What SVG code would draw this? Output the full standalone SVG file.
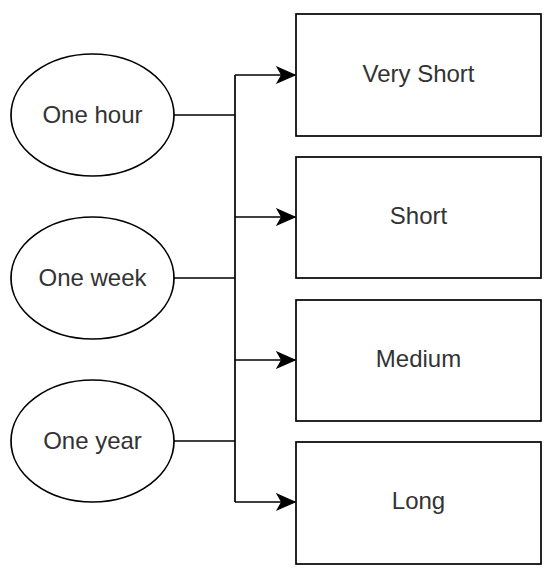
<svg xmlns="http://www.w3.org/2000/svg" width="550" height="575" viewBox="0 0 550 575">
<style>
.shape{fill:#fff;stroke:#000;stroke-width:1.7}
.lbl{font-family:"Liberation Sans",Arial,sans-serif;font-size:24px;fill:#333;text-anchor:middle}
.conn{fill:none;stroke:#000;stroke-width:1.7}
</style>
<defs>
<marker id="arr" markerUnits="userSpaceOnUse" markerWidth="20" markerHeight="20" viewBox="-17 -8 18 16" refX="0" refY="0" orient="auto">
<path d="M0,0 L-16,-7 L-12,0 L-16,7 Z" fill="#000" stroke="#000" stroke-width="1"/>
</marker>
</defs>
<rect width="550" height="575" fill="#fff"/>
<g id="connectors">
<path class="conn" d="M174,115 H235"/>
<path class="conn" d="M174,278 H235"/>
<path class="conn" d="M174,441 H235"/>
<path class="conn" d="M235,75 V502"/>
<path class="conn" d="M235,75 H295" marker-end="url(#arr)"/>
<path class="conn" d="M235,217 H295" marker-end="url(#arr)"/>
<path class="conn" d="M235,360 H295" marker-end="url(#arr)"/>
<path class="conn" d="M235,502 H295" marker-end="url(#arr)"/>
</g>
<g id="one-hour"><ellipse class="shape" cx="92.5" cy="115" rx="81.5" ry="61"/><text class="lbl" x="92.5" y="123">One hour</text></g>
<g id="one-week"><ellipse class="shape" cx="92.5" cy="278" rx="81.5" ry="61"/><text class="lbl" x="92.5" y="286">One week</text></g>
<g id="one-year"><ellipse class="shape" cx="92.5" cy="441" rx="81.5" ry="61"/><text class="lbl" x="92.5" y="449">One year</text></g>
<g id="very-short"><rect class="shape" x="296" y="14" width="245" height="122"/><text class="lbl" x="418.5" y="82">Very Short</text></g>
<g id="short"><rect class="shape" x="296" y="157" width="245" height="121"/><text class="lbl" x="418.5" y="224">Short</text></g>
<g id="medium"><rect class="shape" x="296" y="300" width="245" height="121"/><text class="lbl" x="418.5" y="367">Medium</text></g>
<g id="long"><rect class="shape" x="296" y="442" width="245" height="122"/><text class="lbl" x="418.5" y="509">Long</text></g>
</svg>
